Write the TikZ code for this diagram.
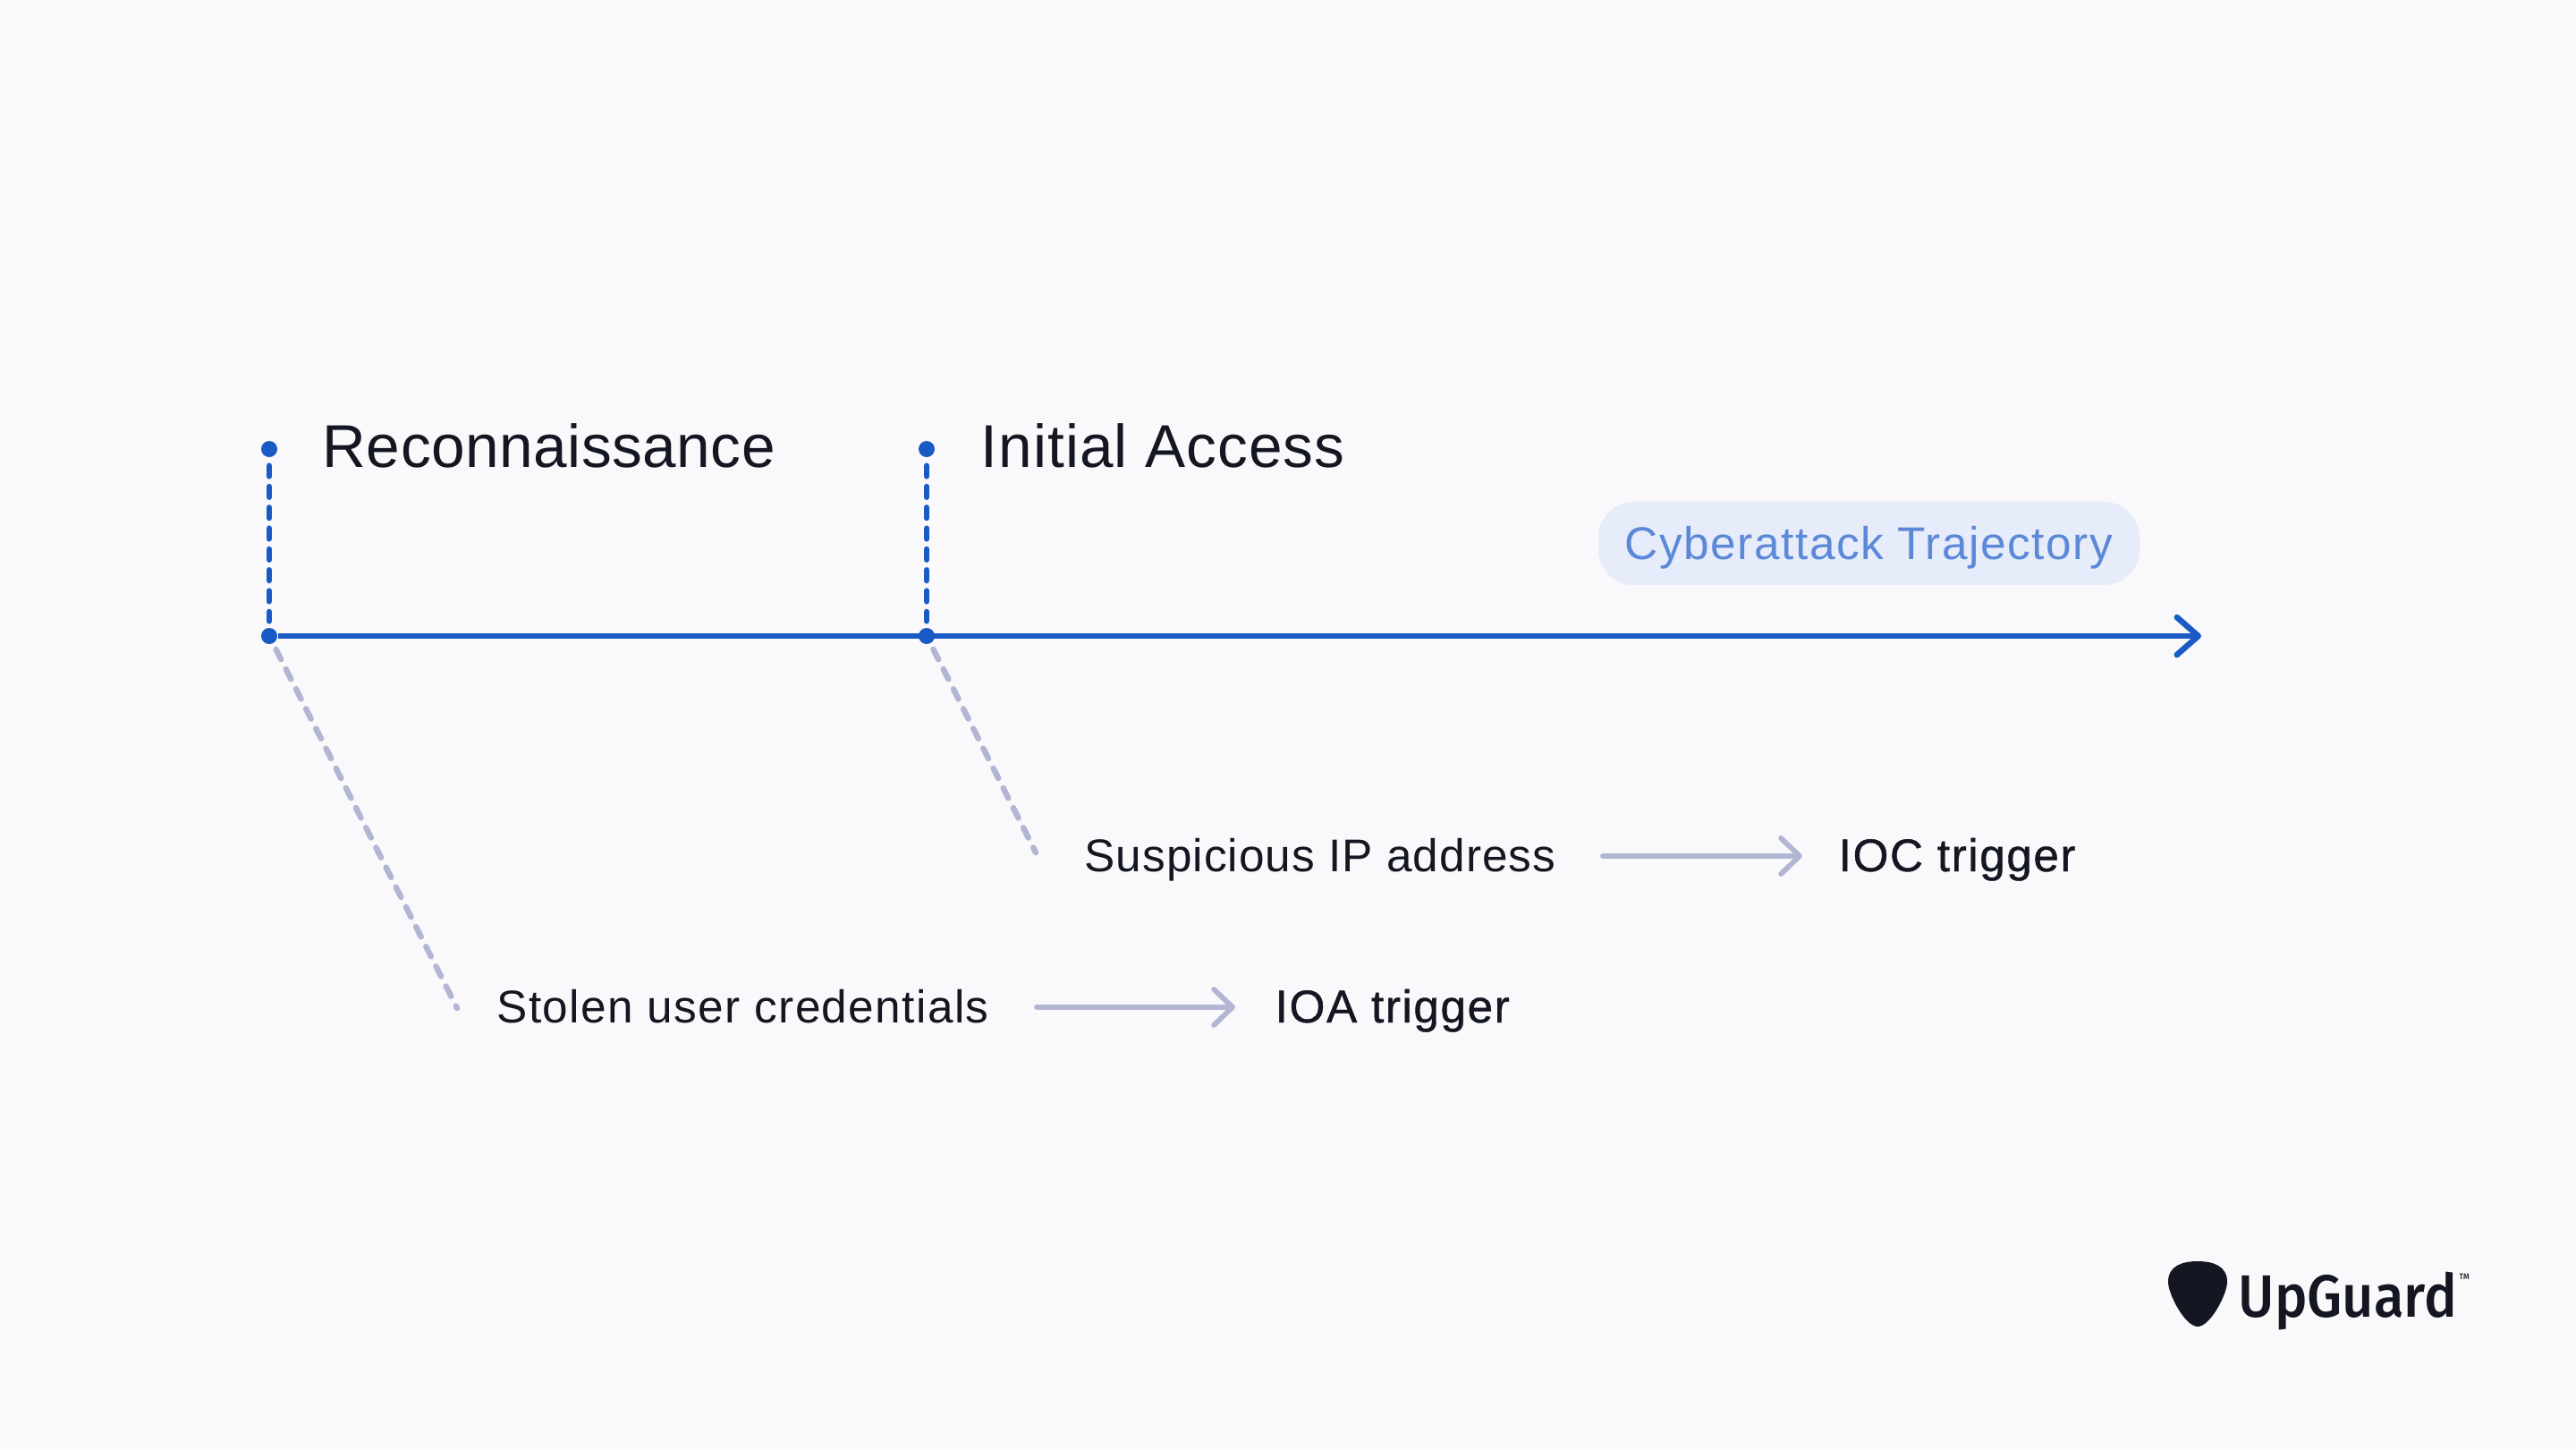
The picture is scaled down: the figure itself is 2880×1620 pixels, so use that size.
\documentclass[tikz,border=0pt]{standalone}
\usepackage{fontspec}
\setmainfont{Liberation Sans}
\newfontfamily\logofont[FakeStretch=0.92]{Fira Sans Medium}
\usetikzlibrary{arrows.meta}
\definecolor{pagebg}{HTML}{F9F9FC}
\definecolor{trackblue}{HTML}{1A5AC4}
\definecolor{softgrey}{HTML}{B3B6D3}
\definecolor{inkdark}{HTML}{141722}
\definecolor{pillfill}{HTML}{E6ECF9}
\definecolor{pilltext}{HTML}{5C88D8}
\tikzset{
    stage/.style={anchor=base west,inner sep=0pt,text=inkdark,font=\fontsize{19.2pt}{23pt}\addfontfeatures{LetterSpace=0.8}\selectfont},
    finding/.style={anchor=base west,inner sep=0pt,text=inkdark,font=\fontsize{14.6pt}{18pt}\addfontfeatures{LetterSpace=2.7}\selectfont},
    trigger/.style={finding,font=\fontsize{14.6pt}{18pt}\addfontfeatures{FakeBold=0.8,LetterSpace=3}\selectfont},
    stagedot/.style={circle,fill=trackblue,inner sep=0pt,minimum size=0.18cm},
    stem/.style={trackblue,line width=0.065cm,line cap=round,dash pattern=on 0.117cm off 0.116cm},
    lead/.style={softgrey,line width=0.065cm,line cap=round,dash pattern=on 0.125cm off 0.123cm,shorten <=0.07cm},
    track/.style={trackblue,line width=0.065cm,-{Straight Barb[length=0.24cm,width=0.42cm,round]}},
    result/.style={softgrey,line width=0.058cm,line cap=round,-{Straight Barb[length=0.21cm,width=0.40cm,round]}}
}

\begin{document}
\begin{tikzpicture}[x=0.01cm,y=-0.01cm]
    \fill[pagebg] (0,0) rectangle (2880,1620);
    % time line and its stages
    \node[stagedot] (reconTop) at (301,502) {};
    \node[stagedot] (reconBase) at (301,711) {};
    \node[stagedot] (accessTop) at (1036,502) {};
    \node[stagedot] (accessBase) at (1036,711) {};
    \coordinate (trackEnd) at (2461,711);
    \draw[track] (reconBase) -- (trackEnd);
    \draw[stem,shorten <=0.09cm,shorten >=0.07cm] (reconTop) -- (reconBase);
    \draw[stem,shorten <=0.09cm,shorten >=0.07cm] (accessTop) -- (accessBase);
    \node[stage] (reconLabel) at (360,522) {Reconnaissance};
    \node[stage,font=\fontsize{19.2pt}{23pt}\addfontfeatures{LetterSpace=1.6}\selectfont] (accessLabel) at (1096,522) {Initial Access};
    \node[fill=pillfill,rounded corners=0.4cm,inner sep=0pt,minimum width=6.05cm,minimum height=0.93cm,
        text height=0.45cm,text depth=0.10cm,text=pilltext,font=\fontsize{14.6pt}{18pt}\addfontfeatures{LetterSpace=3}\selectfont] (pill) at (2089.5,607.5) {Cyberattack Trajectory};
    % what each stage leaves behind
    \coordinate (ipEnd) at (1158,953);
    \coordinate (credEnd) at (511,1127);
    \draw[lead] (accessBase) -- (ipEnd);
    \draw[lead] (reconBase) -- (credEnd);
    \node[finding,font=\fontsize{14.6pt}{18pt}\addfontfeatures{LetterSpace=2}\selectfont] (ipLabel) at (1212,974) {Suspicious IP address};
    \node[trigger] (iocLabel) at (2055,974) {IOC trigger};
    \coordinate (ipOut) at (1792,957);
    \coordinate (iocIn) at (2015,957);
    \draw[result] (ipOut) -- (iocIn);
    \node[finding] (credLabel) at (555,1143) {Stolen user credentials};
    \node[trigger] (ioaLabel) at (1425,1143) {IOA trigger};
    \coordinate (credOut) at (1159,1126);
    \coordinate (ioaIn) at (1381,1126);
    \draw[result] (credOut) -- (ioaIn);
    % logo
    \fill[inkdark] (2457,1410) .. controls (2440,1410) and (2424,1415) .. (2424,1433)
        .. controls (2424,1447) and (2443,1483) .. (2457,1483)
        .. controls (2471,1483) and (2490,1447) .. (2490,1433)
        .. controls (2490,1415) and (2474,1410) .. (2457,1410);
    \node[anchor=base west,inner sep=0pt,text=inkdark,font=\logofont\fontsize{19pt}{23pt}\selectfont] (logoName) at (2502,1472) {UpGuard};
    \node[anchor=base west,inner sep=0pt,text=inkdark,font=\logofont\fontsize{2.6pt}{4pt}\selectfont] (logoMark) at (2749,1430) {TM};
\end{tikzpicture}
\end{document}
